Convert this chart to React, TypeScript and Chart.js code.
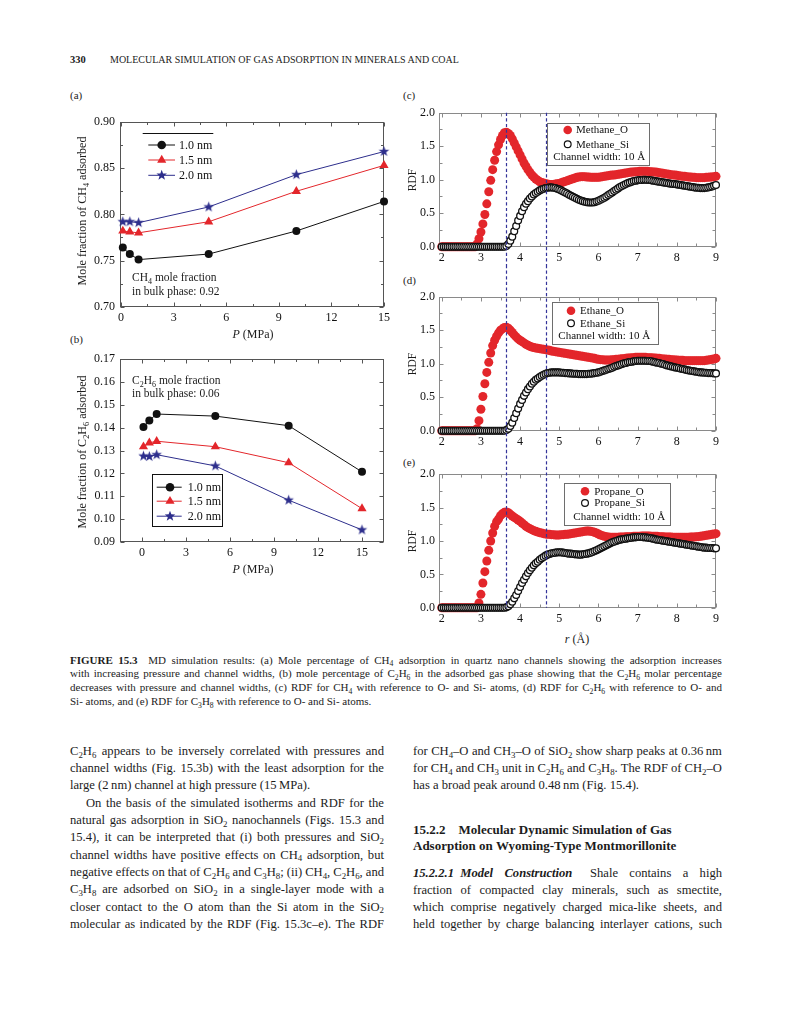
import React, { useEffect, useLayoutEffect, useRef } from 'react';
import { Chart, registerables } from 'chart.js';

Chart.register(...registerables);

const SERIF = '"Liberation Serif", "Times New Roman", Times, serif';
const INK = '#1c1c1c';
const BLACK = '#111111';
const RED = '#e3262b';
const NAVY = '#2d2e8c';
const DASH = '#34349a';

// ---------------- (a) / (b) data ----------------
const pressureMPa = [0.1, 0.5, 1, 5, 10, 15];
const widthNames = ['1.0 nm', '1.5 nm', '2.0 nm'];
const ch4W10 = [0.764, 0.757, 0.751, 0.757, 0.782, 0.814];
const ch4W15 = [0.782, 0.781, 0.78, 0.792, 0.825, 0.853];
const ch4W20 = [0.792, 0.792, 0.791, 0.808, 0.843, 0.868];
const c2h6W10 = [0.1403, 0.1432, 0.146, 0.1451, 0.1409, 0.1207];
const c2h6W15 = [0.1317, 0.1334, 0.1341, 0.1317, 0.1247, 0.1046];
const c2h6W20 = [0.1276, 0.1274, 0.1282, 0.1233, 0.1083, 0.0953];

const pTicks = [0, 3, 6, 9, 12, 15];
const pMinor = [1.5, 4.5, 7.5, 10.5, 13.5];
const ch4Ticks = [0.7, 0.75, 0.8, 0.85, 0.9];
const ch4Minor = [0.725, 0.775, 0.825, 0.875];
const c2h6Ticks = [0.09, 0.1, 0.11, 0.12, 0.13, 0.14, 0.15, 0.16, 0.17];
const c2h6Minor: number[] = [];

// ---------------- (c)-(e) RDF data ----------------
const rdfR = [
  2.0, 2.05, 2.1, 2.15, 2.2, 2.25, 2.3, 2.35, 2.4, 2.45,
  2.5, 2.55, 2.6, 2.65, 2.7, 2.75, 2.8, 2.85, 2.9, 2.95,
  3.0, 3.05, 3.1, 3.15, 3.2, 3.25, 3.3, 3.35, 3.4, 3.45,
  3.5, 3.55, 3.6, 3.65, 3.7, 3.75, 3.8, 3.85, 3.9, 3.95,
  4.0, 4.05, 4.1, 4.15, 4.2, 4.25, 4.3, 4.35, 4.4, 4.45,
  4.5, 4.55, 4.6, 4.65, 4.7, 4.75, 4.8, 4.85, 4.9, 4.95,
  5.0, 5.05, 5.1, 5.15, 5.2, 5.25, 5.3, 5.35, 5.4, 5.45,
  5.5, 5.55, 5.6, 5.65, 5.7, 5.75, 5.8, 5.85, 5.9, 5.95,
  6.0, 6.05, 6.1, 6.15, 6.2, 6.25, 6.3, 6.35, 6.4, 6.45,
  6.5, 6.55, 6.6, 6.65, 6.7, 6.75, 6.8, 6.85, 6.9, 6.95,
  7.0, 7.05, 7.1, 7.15, 7.2, 7.25, 7.3, 7.35, 7.4, 7.45,
  7.5, 7.55, 7.6, 7.65, 7.7, 7.75, 7.8, 7.85, 7.9, 7.95,
  8.0, 8.05, 8.1, 8.15, 8.2, 8.25, 8.3, 8.35, 8.4, 8.45,
  8.5, 8.55, 8.6, 8.65, 8.7, 8.75, 8.8, 8.85, 8.9, 8.95,
  9.0,
];

const methaneO = [
  0, 0, 0, 0, 0, 0, 0, 0, 0, 0,
  0, 0, 0, 0, 0, 0, 0, 0, 0.04, 0.12,
  0.22, 0.34, 0.48, 0.64, 0.82, 0.99, 1.15, 1.29, 1.42, 1.52,
  1.6, 1.66, 1.7, 1.71, 1.69, 1.66, 1.61, 1.55, 1.49, 1.43,
  1.37, 1.31, 1.25, 1.2, 1.15, 1.11, 1.07, 1.04, 1.01, 0.99,
  0.97, 0.96, 0.95, 0.94, 0.935, 0.93, 0.93, 0.93, 0.935, 0.94,
  0.945, 0.955, 0.965, 0.975, 0.985, 0.995, 1.005, 1.015, 1.025, 1.035,
  1.04, 1.045, 1.045, 1.045, 1.04, 1.04, 1.035, 1.035, 1.035, 1.035,
  1.035, 1.04, 1.045, 1.05, 1.055, 1.06, 1.065, 1.07, 1.07, 1.075,
  1.08, 1.085, 1.09, 1.095, 1.1, 1.105, 1.11, 1.115, 1.115, 1.12,
  1.12, 1.125, 1.125, 1.125, 1.125, 1.125, 1.12, 1.12, 1.115, 1.115,
  1.11, 1.105, 1.1, 1.095, 1.09, 1.085, 1.08, 1.075, 1.07, 1.07,
  1.065, 1.06, 1.055, 1.05, 1.05, 1.045, 1.04, 1.04, 1.035, 1.035,
  1.03, 1.03, 1.03, 1.03, 1.03, 1.035, 1.035, 1.04, 1.04, 1.045,
  1.05,
];
const methaneSi = [
  0, 0, 0, 0, 0, 0, 0, 0, 0, 0,
  0, 0, 0, 0, 0, 0, 0, 0, 0, 0,
  0, 0, 0, 0, 0, 0, 0, 0, 0, 0,
  0, 0, 0, 0.01, 0.04, 0.09, 0.15, 0.23, 0.31, 0.39,
  0.46, 0.53, 0.59, 0.64, 0.68, 0.72, 0.75, 0.78, 0.8, 0.82,
  0.84, 0.855, 0.865, 0.875, 0.88, 0.885, 0.885, 0.88, 0.875, 0.865,
  0.855, 0.84, 0.825, 0.81, 0.795, 0.775, 0.76, 0.745, 0.73, 0.715,
  0.7, 0.69, 0.68, 0.67, 0.665, 0.66, 0.66, 0.66, 0.665, 0.675,
  0.685, 0.7, 0.715, 0.73, 0.75, 0.77, 0.79, 0.81, 0.83, 0.85,
  0.87, 0.89, 0.905, 0.92, 0.935, 0.95, 0.96, 0.97, 0.98, 0.985,
  0.99, 0.995, 0.995, 1.0, 1.0, 0.995, 0.995, 0.99, 0.985, 0.98,
  0.975, 0.97, 0.965, 0.96, 0.955, 0.95, 0.945, 0.94, 0.935, 0.935,
  0.93, 0.925, 0.92, 0.915, 0.91, 0.905, 0.9, 0.895, 0.89, 0.885,
  0.88, 0.88, 0.875, 0.875, 0.875, 0.88, 0.885, 0.89, 0.9, 0.91,
  0.92,
];
const ethaneO = [
  0, 0, 0, 0, 0, 0, 0, 0, 0, 0,
  0, 0, 0, 0, 0, 0, 0, 0, 0.03, 0.15,
  0.32, 0.51, 0.7, 0.87, 1.02, 1.16, 1.27, 1.35, 1.41, 1.46,
  1.5, 1.52, 1.54, 1.545, 1.53, 1.5, 1.465, 1.43, 1.4, 1.37,
  1.35, 1.33, 1.31, 1.29, 1.275, 1.26, 1.25, 1.24, 1.235, 1.23,
  1.225, 1.22, 1.215, 1.21, 1.205, 1.2, 1.19, 1.185, 1.18, 1.175,
  1.17, 1.165, 1.16, 1.155, 1.15, 1.145, 1.14, 1.135, 1.13, 1.125,
  1.12, 1.115, 1.11, 1.105, 1.1, 1.095, 1.09, 1.085, 1.08, 1.07,
  1.065, 1.06, 1.06, 1.055, 1.055, 1.055, 1.055, 1.06, 1.06, 1.065,
  1.065, 1.07, 1.075, 1.075, 1.08, 1.085, 1.085, 1.09, 1.09, 1.095,
  1.095, 1.095, 1.095, 1.095, 1.095, 1.09, 1.09, 1.09, 1.085, 1.085,
  1.08, 1.08, 1.075, 1.07, 1.07, 1.065, 1.065, 1.06, 1.06, 1.055,
  1.055, 1.05, 1.05, 1.05, 1.045, 1.045, 1.045, 1.045, 1.045, 1.045,
  1.045, 1.045, 1.045, 1.045, 1.045, 1.05, 1.055, 1.06, 1.065, 1.07,
  1.08,
];
const ethaneSi = [
  0, 0, 0, 0, 0, 0, 0, 0, 0, 0,
  0, 0, 0, 0, 0, 0, 0, 0, 0, 0,
  0, 0, 0, 0, 0, 0, 0, 0, 0, 0,
  0, 0, 0, 0.01, 0.03, 0.07, 0.12, 0.19, 0.26, 0.33,
  0.4, 0.46, 0.52, 0.57, 0.62, 0.66, 0.7, 0.73, 0.76, 0.78,
  0.8, 0.82, 0.835, 0.85, 0.86, 0.865, 0.87, 0.87, 0.87, 0.87,
  0.87, 0.865, 0.865, 0.86, 0.86, 0.855, 0.855, 0.85, 0.85, 0.85,
  0.845, 0.845, 0.845, 0.845, 0.845, 0.85, 0.85, 0.855, 0.86, 0.865,
  0.87, 0.88, 0.89, 0.9, 0.91, 0.92, 0.93, 0.94, 0.955, 0.965,
  0.975, 0.985, 0.995, 1.005, 1.01, 1.02, 1.025, 1.03, 1.035, 1.04,
  1.045, 1.045, 1.045, 1.045, 1.045, 1.04, 1.04, 1.035, 1.03, 1.02,
  1.015, 1.01, 1.0, 0.995, 0.985, 0.975, 0.97, 0.96, 0.955, 0.945,
  0.94, 0.935, 0.925, 0.92, 0.915, 0.905, 0.9, 0.895, 0.89, 0.885,
  0.88, 0.875, 0.87, 0.87, 0.865, 0.865, 0.86, 0.86, 0.86, 0.855,
  0.855,
];
const propaneO = [
  0, 0, 0, 0, 0, 0, 0, 0, 0, 0,
  0, 0, 0, 0, 0, 0, 0, 0, 0, 0.07,
  0.2, 0.37, 0.54, 0.7, 0.86, 1.0, 1.12, 1.22, 1.29, 1.33,
  1.38, 1.41, 1.43, 1.435, 1.425, 1.4, 1.375, 1.355, 1.335, 1.315,
  1.295, 1.27, 1.245, 1.22, 1.2, 1.185, 1.17, 1.155, 1.145, 1.135,
  1.125, 1.12, 1.11, 1.105, 1.1, 1.1, 1.095, 1.095, 1.09, 1.09,
  1.09, 1.095, 1.095, 1.1, 1.1, 1.105, 1.11, 1.115, 1.12, 1.125,
  1.13, 1.135, 1.14, 1.145, 1.15, 1.15, 1.145, 1.14, 1.13, 1.12,
  1.105, 1.09, 1.08, 1.07, 1.065, 1.06, 1.055, 1.055, 1.055, 1.055,
  1.055, 1.06, 1.06, 1.06, 1.065, 1.065, 1.065, 1.065, 1.07, 1.07,
  1.07, 1.07, 1.075, 1.075, 1.075, 1.075, 1.075, 1.07, 1.07, 1.07,
  1.07, 1.065, 1.065, 1.065, 1.06, 1.06, 1.06, 1.06, 1.055, 1.055,
  1.055, 1.055, 1.055, 1.055, 1.055, 1.055, 1.055, 1.06, 1.06, 1.06,
  1.065, 1.065, 1.07, 1.075, 1.08, 1.085, 1.09, 1.095, 1.1, 1.105,
  1.11,
];
const propaneSi = [
  0, 0, 0, 0, 0, 0, 0, 0, 0, 0,
  0, 0, 0, 0, 0, 0, 0, 0, 0, 0,
  0, 0, 0, 0, 0, 0, 0, 0, 0, 0,
  0, 0, 0, 0.005, 0.02, 0.05, 0.09, 0.14, 0.19, 0.25,
  0.31, 0.37, 0.42, 0.47, 0.52, 0.56, 0.6, 0.635, 0.665, 0.69,
  0.72, 0.74, 0.76, 0.78, 0.795, 0.805, 0.815, 0.82, 0.825, 0.83,
  0.83, 0.83, 0.825, 0.82, 0.815, 0.81, 0.81, 0.805, 0.8, 0.8,
  0.795, 0.795, 0.8, 0.805, 0.81, 0.815, 0.825, 0.835, 0.85, 0.86,
  0.875, 0.89, 0.905, 0.92, 0.935, 0.95, 0.965, 0.98, 0.99, 1.0,
  1.01, 1.02, 1.025, 1.03, 1.035, 1.04, 1.045, 1.05, 1.055, 1.055,
  1.06, 1.06, 1.06, 1.055, 1.055, 1.05, 1.045, 1.04, 1.035, 1.025,
  1.02, 1.015, 1.01, 1.005, 1.0, 0.995, 0.99, 0.985, 0.98, 0.975,
  0.97, 0.965, 0.96, 0.955, 0.95, 0.945, 0.94, 0.935, 0.93, 0.925,
  0.92, 0.915, 0.91, 0.905, 0.9, 0.9, 0.895, 0.895, 0.895, 0.89,
  0.89,
];

const rTicks = [2, 3, 4, 5, 6, 7, 8, 9];
const rMinor = [2.5, 3.5, 4.5, 5.5, 6.5, 7.5, 8.5];
const rdfTicks = [0, 0.5, 1, 1.5, 2];
const rdfMinor = [0.25, 0.75, 1.25, 1.75];
const peakLinesR = [3.63, 4.65];
const channelNote = 'Channel width: 10 \u00C5';

// ---------------- page text ----------------
const captionLines = [
  '~FIGURE 15.3~\u2002 MD simulation results: (a) Mole percentage of CH_4 adsorption in quartz nano channels showing the adsorption increases',
  'with increasing pressure and channel widths, (b) mole percentage of C_2H_6 in the adsorbed gas phase showing that the C_2H_6 molar percentage',
  'decreases with pressure and channel widths, (c) RDF for CH_4 with reference to O- and Si- atoms, (d) RDF for C_2H_6 with reference to O- and',
  'Si- atoms, and (e) RDF for C_3H_8 with reference to O- and Si- atoms.',
];
const leftColumn = [
  'C_2H_6 appears to be inversely correlated with pressures and',
  'channel widths (Fig. 15.3b) with the least adsorption for the',
  'large (2\u2009nm) channel at high pressure (15\u2009MPa).',
  'On the basis of the simulated isotherms and RDF for the',
  'natural gas adsorption in SiO_2 nanochannels (Figs. 15.3 and',
  '15.4), it can be interpreted that (i) both pressures and SiO_2',
  'channel widths have positive effects on CH_4 adsorption, but',
  'negative effects on that of C_2H_6 and C_3H_8; (ii) CH_4, C_2H_6, and',
  'C_3H_8 are adsorbed on SiO_2 in a single-layer mode with a',
  'closer contact to the O atom than the Si atom in the SiO_2',
  'molecular as indicated by the RDF (Fig. 15.3c\u2013e). The RDF',
];
const rightTop = [
  'for CH_4\u2013O and CH_3\u2013O of SiO_2 show sharp peaks at 0.36\u2009nm',
  'for CH_4 and CH_3 unit in C_2H_6 and C_3H_8. The RDF of CH_2\u2013O',
  'has a broad peak around 0.48\u2009nm (Fig. 15.4).',
];
const rightHeading = [
  '15.2.2\u2003Molecular Dynamic Simulation of Gas',
  'Adsorption on Wyoming-Type Montmorillonite',
];
const rightBottom = [
  '~^15.2.2.1\u2002Model Construction^~\u2002 Shale contains a high',
  'fraction of compacted clay minerals, such as smectite,',
  'which comprise negatively charged mica-like sheets, and',
  'held together by charge balancing interlayer cations, such',
];

// ---------------- rich text helpers ----------------
type Run = { t: string; b: boolean; i: boolean; s: boolean };

function parseRuns(src: string): Run[] {
  const runs: Run[] = [];
  let b = false;
  let it = false;
  const add = (t: string, s: boolean) => {
    const last = runs[runs.length - 1];
    if (last && last.b === b && last.i === it && last.s === s) last.t += t;
    else runs.push({ t, b, i: it, s });
  };
  for (let k = 0; k < src.length; k++) {
    const c = src[k];
    if (c === '~') { b = !b; continue; }
    if (c === '^') { it = !it; continue; }
    if (c === '_') { add(src[k + 1], true); k++; continue; }
    add(c, false);
  }
  return runs;
}

function parseWords(src: string): Run[][] {
  const words: Run[][] = [];
  let cur: Run[] = [];
  for (const r of parseRuns(src)) {
    const parts = r.t.split(' ');
    parts.forEach((p, idx) => {
      if (idx > 0) { if (cur.length) words.push(cur); cur = []; }
      if (p) cur.push({ ...r, t: p });
    });
  }
  if (cur.length) words.push(cur);
  return words;
}

function renderRuns(runs: Run[]) {
  return runs.map((r, k) => (
    <span
      key={k}
      style={{
        fontWeight: r.b ? 700 : undefined,
        fontStyle: r.i ? 'italic' : undefined,
        ...(r.s ? { fontSize: '0.7em', position: 'relative' as const, top: '0.32em' } : {}),
      }}
    >
      {r.t}
    </span>
  ));
}

function Line(props: { x: number; y: number; w: number; fs: number; src: string; justify?: boolean; bold?: boolean }) {
  const { x, y, w, fs, src, justify, bold } = props;
  const words = parseWords(src);
  return (
    <div
      data-fit="1"
      style={{
        position: 'absolute', left: x, top: y - fs * 0.65, width: w, fontSize: fs,
        lineHeight: `${fs * 1.2}px`, display: 'flex', justifyContent: justify ? 'space-between' : 'flex-start',
        columnGap: `${fs * (justify ? 0.18 : 0.25)}px`, whiteSpace: 'pre', fontWeight: bold ? 700 : undefined,
      }}
    >
      {words.map((wd, i) => <span key={i}>{renderRuns(wd)}</span>)}
    </div>
  );
}

function Txt(props: { x: number; y: number; fs: number; src: string; center?: boolean; rotate?: boolean; bold?: boolean }) {
  const { x, y, fs, src, center, rotate, bold } = props;
  let transform = 'translate(0,-50%)';
  if (center) transform = 'translate(-50%,-50%)';
  if (rotate) transform = 'translate(-50%,-50%) rotate(-90deg)';
  return (
    <div
      style={{
        position: 'absolute', left: x, top: y, fontSize: fs, lineHeight: `${fs * 1.2}px`,
        whiteSpace: 'pre', transform, fontWeight: bold ? 700 : undefined,
      }}
    >
      {renderRuns(parseRuns(src))}
    </div>
  );
}

// ---------------- chart helpers ----------------
type Rect = { left: number; top: number; width: number; height: number };
type Plot = { left: number; top: number; right: number; bottom: number };

function fitLayout(cv: Rect, pl: Plot) {
  return {
    pad: { left: 0, top: pl.top - cv.top, right: cv.left + cv.width - pl.right, bottom: 0 },
    yW: pl.left - cv.left,
    xH: cv.top + cv.height - pl.bottom,
  };
}

function scaleOpts(axis: 'x' | 'y', min: number, max: number, ticks: number[], fmt: (v: number) => string, size: number, pad: number) {
  return {
    type: 'linear',
    position: axis === 'x' ? 'bottom' : 'left',
    min,
    max,
    afterBuildTicks: (s: any) => { s.ticks = ticks.map((v) => ({ value: v })); },
    afterFit: (s: any) => { if (axis === 'x') s.height = size; else s.width = size; },
    grid: { display: false, drawTicks: false, tickLength: 0 },
    border: { display: false },
    ticks: {
      callback: (v: any) => fmt(Number(v)),
      autoSkip: false, maxRotation: 0, minRotation: 0, padding: pad, color: '#111',
      font: { family: SERIF, size: 12 },
    },
  };
}

function starPath(ctx: CanvasRenderingContext2D, x: number, y: number, ro: number, ri: number) {
  ctx.beginPath();
  for (let k = 0; k < 10; k++) {
    const r = k % 2 === 0 ? ro : ri;
    const a = -Math.PI / 2 + (k * Math.PI) / 5;
    const px = x + r * Math.cos(a);
    const py = y + r * Math.sin(a);
    if (k === 0) ctx.moveTo(px, py); else ctx.lineTo(px, py);
  }
  ctx.closePath();
}

function drawMarker(ctx: CanvasRenderingContext2D, kind: string, x: number, y: number, r: number, color: string) {
  ctx.save();
  ctx.fillStyle = color;
  if (kind === 'circle') {
    ctx.beginPath(); ctx.arc(x, y, r, 0, Math.PI * 2); ctx.fill();
  } else if (kind === 'triangle') {
    ctx.beginPath();
    for (let k = 0; k < 3; k++) {
      const a = (k * 2 * Math.PI) / 3;
      const px = x + Math.sin(a) * r;
      const py = y - Math.cos(a) * r;
      if (k === 0) ctx.moveTo(px, py); else ctx.lineTo(px, py);
    }
    ctx.closePath(); ctx.fill();
  } else {
    starPath(ctx, x, y, r, r * 0.42); ctx.fill();
  }
  ctx.restore();
}

function makeStar(r: number, color: string) {
  const s = Math.ceil(r * 2 + 2);
  const c = document.createElement('canvas');
  c.width = s; c.height = s;
  const ctx = c.getContext('2d')!;
  ctx.fillStyle = color;
  starPath(ctx, s / 2, s / 2, r, r * 0.42);
  ctx.fill();
  return c;
}

function frameTicks(spec: { color: string; xMajor: number[]; xMinor: number[]; yMajor: number[]; yMinor: number[]; major: number; minor: number }) {
  return {
    id: 'frameTicks',
    beforeDatasetsDraw(chart: any) {
      const { ctx, chartArea: a, scales } = chart;
      const L = Math.round(a.left) + 0.5, R = Math.round(a.right) - 0.5;
      const T = Math.round(a.top) + 0.5, B = Math.round(a.bottom) - 0.5;
      ctx.save();
      ctx.strokeStyle = spec.color;
      ctx.lineWidth = 1;
      ctx.strokeRect(L, T, R - L, B - T);
      ctx.beginPath();
      const xs = (vals: number[], len: number) => vals.forEach((v) => {
        const p = Math.round(scales.x.getPixelForValue(v)) + 0.5;
        ctx.moveTo(p, B); ctx.lineTo(p, B - len);
        ctx.moveTo(p, T); ctx.lineTo(p, T + len);
      });
      const ys = (vals: number[], len: number) => vals.forEach((v) => {
        const p = Math.round(scales.y.getPixelForValue(v)) + 0.5;
        ctx.moveTo(L, p); ctx.lineTo(L + len, p);
        ctx.moveTo(R, p); ctx.lineTo(R - len, p);
      });
      xs(spec.xMajor, spec.major); xs(spec.xMinor, spec.minor);
      ys(spec.yMajor, spec.major); ys(spec.yMinor, spec.minor);
      ctx.stroke();
      ctx.restore();
    },
  };
}

type LegItem = { kind: string; color: string; label: string; r: number };
function lineLegend(spec: { items: LegItem[]; rows: number[]; lx0: number; lx1: number; mx: number; tx: number; topRule?: number[]; box?: number[] }) {
  return {
    id: 'lineLegend',
    afterDatasetsDraw(chart: any) {
      const { ctx, chartArea: a } = chart;
      ctx.save();
      ctx.strokeStyle = '#111';
      ctx.lineWidth = 1;
      if (spec.topRule) {
        const [x0, x1, y] = spec.topRule;
        const yy = Math.round(a.top + y) + 0.5;
        ctx.beginPath(); ctx.moveTo(a.left + x0, yy); ctx.lineTo(a.left + x1, yy); ctx.stroke();
      }
      if (spec.box) {
        const [x0, y0, x1, y1] = spec.box;
        ctx.strokeRect(Math.round(a.left + x0) + 0.5, Math.round(a.top + y0) + 0.5, Math.round(x1 - x0), Math.round(y1 - y0));
      }
      ctx.font = `12px ${SERIF}`;
      ctx.textBaseline = 'middle';
      spec.items.forEach((it, i) => {
        const y = a.top + spec.rows[i];
        ctx.strokeStyle = it.color;
        ctx.beginPath(); ctx.moveTo(a.left + spec.lx0, y); ctx.lineTo(a.left + spec.lx1, y); ctx.stroke();
        drawMarker(ctx, it.kind, a.left + spec.mx, y, it.r, it.color);
        ctx.fillStyle = '#111';
        ctx.fillText(it.label, a.left + spec.tx, y + 0.5);
      });
      ctx.restore();
    },
  };
}

function rdfLegend(spec: { names: string[]; box: number[]; mx: number; tx: number; rows: number[]; note: number[] }) {
  return {
    id: 'rdfLegend',
    afterDatasetsDraw(chart: any) {
      const { ctx, chartArea: a } = chart;
      const [x0, y0, x1, y1] = spec.box;
      ctx.save();
      ctx.fillStyle = '#fff';
      ctx.fillRect(a.left + x0, a.top + y0, x1 - x0, y1 - y0);
      ctx.strokeStyle = '#6e6e6e';
      ctx.lineWidth = 1;
      ctx.strokeRect(Math.round(a.left + x0) + 0.5, Math.round(a.top + y0) + 0.5, Math.round(x1 - x0), Math.round(y1 - y0));
      ctx.fillStyle = RED;
      ctx.beginPath(); ctx.arc(a.left + spec.mx, a.top + spec.rows[0], 4.3, 0, Math.PI * 2); ctx.fill();
      ctx.fillStyle = '#fff'; ctx.strokeStyle = '#111'; ctx.lineWidth = 1.2;
      ctx.beginPath(); ctx.arc(a.left + spec.mx, a.top + spec.rows[1], 3.4, 0, Math.PI * 2); ctx.fill(); ctx.stroke();
      ctx.fillStyle = '#111';
      ctx.font = `11px ${SERIF}`;
      ctx.textBaseline = 'middle';
      ctx.textAlign = 'left';
      ctx.fillText(spec.names[0], a.left + spec.tx, a.top + spec.rows[0] + 0.5);
      ctx.fillText(spec.names[1], a.left + spec.tx, a.top + spec.rows[1] + 0.5);
      ctx.textAlign = 'center';
      ctx.fillText(channelNote, a.left + spec.note[0], a.top + spec.note[1] + 0.5);
      ctx.restore();
    },
  };
}

function peakDashes(topAtArea: boolean, bottomAtArea: boolean) {
  return {
    id: 'peakDashes',
    afterDatasetsDraw(chart: any) {
      const { ctx, chartArea: a, scales } = chart;
      const y0 = topAtArea ? a.top : 0;
      const y1 = bottomAtArea ? a.bottom : chart.height;
      ctx.save();
      ctx.strokeStyle = DASH;
      ctx.lineWidth = 1.2;
      ctx.setLineDash([3.2, 2.4]);
      peakLinesR.forEach((v) => {
        const px = Math.round(scales.x.getPixelForValue(v)) + 0.5;
        ctx.beginPath(); ctx.moveTo(px, y0); ctx.lineTo(px, y1); ctx.stroke();
      });
      ctx.restore();
    },
  };
}

// ---------------- panel specs ----------------
type LinePanel = {
  canvas: Rect; plot: Plot; xMin: number; xMax: number; yMin: number; yMax: number;
  yTicks: number[]; yMinor: number[]; series: number[][]; legend: any;
};

const panelA: LinePanel = {
  canvas: { left: 78, top: 108, width: 322, height: 225 },
  plot: { left: 120, top: 122, right: 384, bottom: 306.7 },
  xMin: -0.06, xMax: 15, yMin: 0.7, yMax: 0.9, yTicks: ch4Ticks, yMinor: ch4Minor,
  series: [ch4W10, ch4W15, ch4W20],
  legend: { rows: [23, 38, 53.3], lx0: 28.3, lx1: 55, mx: 41.7, tx: 59, topRule: [22.7, 93.3, 11.3] },
};
const panelB: LinePanel = {
  canvas: { left: 78, top: 347, width: 322, height: 215 },
  plot: { left: 120, top: 357, right: 384, bottom: 542 },
  xMin: -1.5, xMax: 16.5, yMin: 0.09, yMax: 0.17, yTicks: c2h6Ticks, yMinor: c2h6Minor,
  series: [c2h6W10, c2h6W15, c2h6W20],
  legend: { rows: [128, 142, 157], lx0: 36.7, lx1: 61.7, mx: 50, tx: 67.7, box: [31.7, 114.7, 101.7, 166.3] },
};

type RdfPanel = {
  canvas: Rect; plot: Plot; o: number[]; si: number[]; names: string[];
  legend: { box: number[]; mx: number; tx: number; rows: number[]; note: number[] };
  dashTop: boolean; dashBottom: boolean;
};

const panelC: RdfPanel = {
  canvas: { left: 405, top: 100, width: 325, height: 165 },
  plot: { left: 439, top: 112.7, right: 716, bottom: 246.7 },
  o: methaneO, si: methaneSi, names: ['Methane_O', 'Methane_Si'],
  legend: { box: [108, 10, 210, 52.3], mx: 128.7, tx: 137, rows: [17.3, 31.6], note: [160.3, 44] },
  dashTop: true, dashBottom: false,
};
const panelD: RdfPanel = {
  canvas: { left: 405, top: 265, width: 325, height: 185 },
  plot: { left: 439, top: 296.7, right: 716, bottom: 430.7 },
  o: ethaneO, si: ethaneSi, names: ['Ethane_O', 'Ethane_Si'],
  legend: { box: [112.7, 5, 218.7, 46.6], mx: 132, tx: 141, rows: [14, 26.6], note: [165.3, 39] },
  dashTop: false, dashBottom: false,
};
const panelE: RdfPanel = {
  canvas: { left: 405, top: 450, width: 325, height: 175 },
  plot: { left: 439, top: 474.3, right: 716, bottom: 607.7 },
  o: propaneO, si: propaneSi, names: ['Propane_O', 'Propane_Si'],
  legend: { box: [125.3, 8.7, 231.3, 50.4], mx: 146, tx: 155.3, rows: [17, 28.7], note: [180.3, 42] },
  dashTop: false, dashBottom: true,
};

function buildLineChart(el: HTMLCanvasElement, p: LinePanel) {
  const L = fitLayout(p.canvas, p.plot);
  const star = makeStar(5.5, NAVY);
  const looks = [
    { kind: 'circle', color: BLACK, r: 4 },
    { kind: 'triangle', color: RED, r: 5.3 },
    { kind: 'star', color: NAVY, r: 5.5 },
  ];
  const items: LegItem[] = looks.map((lk, i) => ({ ...lk, label: widthNames[i], r: lk.kind === 'circle' ? 4.3 : lk.r }));
  return new Chart(el, {
    type: 'scatter',
    data: {
      datasets: p.series.map((ys, i) => ({
        label: widthNames[i],
        data: pressureMPa.map((x, k) => ({ x, y: ys[k] })),
        showLine: true,
        borderColor: looks[i].color,
        borderWidth: 1,
        backgroundColor: looks[i].color,
        pointBackgroundColor: looks[i].color,
        pointBorderColor: looks[i].color,
        pointBorderWidth: 0,
        pointRadius: looks[i].r,
        pointStyle: looks[i].kind === 'star' ? star : looks[i].kind,
        clip: false,
      })),
    } as any,
    options: {
      responsive: false,
      animation: false,
      events: [],
      layout: { padding: L.pad },
      scales: {
        x: scaleOpts('x', p.xMin, p.xMax, pTicks, (v) => String(v), L.xH, 4),
        y: scaleOpts('y', p.yMin, p.yMax, p.yTicks, (v) => v.toFixed(2), L.yW, 5),
      } as any,
      plugins: { legend: { display: false }, tooltip: { enabled: false } },
    },
    plugins: [
      frameTicks({ color: '#555', xMajor: pTicks, xMinor: pMinor, yMajor: p.yTicks, yMinor: p.yMinor, major: 4, minor: 2.5 }),
      lineLegend({ items, ...p.legend }),
    ],
  });
}

function buildRdfChart(el: HTMLCanvasElement, p: RdfPanel) {
  const L = fitLayout(p.canvas, p.plot);
  return new Chart(el, {
    type: 'scatter',
    data: {
      datasets: [
        {
          label: p.names[0],
          data: rdfR.map((x, k) => ({ x, y: p.o[k] })),
          pointRadius: 4.5,
          pointBackgroundColor: RED,
          pointBorderWidth: 0,
          showLine: false,
          clip: false,
          order: 2,
        },
        {
          label: p.names[1],
          data: rdfR.map((x, k) => ({ x, y: p.si[k] })),
          pointRadius: 3.4,
          pointBackgroundColor: '#ffffff',
          pointBorderColor: '#111111',
          pointBorderWidth: 1.3,
          showLine: false,
          clip: false,
          order: 1,
        },
      ],
    } as any,
    options: {
      responsive: false,
      animation: false,
      events: [],
      layout: { padding: L.pad },
      scales: {
        x: scaleOpts('x', 1.93, 9, rTicks, (v) => String(v), L.xH, 4),
        y: scaleOpts('y', 0, 2, rdfTicks, (v) => v.toFixed(1), L.yW, 4),
      } as any,
      plugins: { legend: { display: false }, tooltip: { enabled: false } },
    },
    plugins: [
      frameTicks({ color: '#8a8a8a', xMajor: rTicks, xMinor: rMinor, yMajor: rdfTicks, yMinor: rdfMinor, major: 4, minor: 3 }),
      peakDashes(p.dashTop, p.dashBottom),
      rdfLegend({ names: p.names, ...p.legend }),
    ],
  });
}

function ChartBox(props: { rect: Rect; build: (el: HTMLCanvasElement) => Chart }) {
  const ref = useRef<HTMLCanvasElement>(null);
  useEffect(() => {
    const c = props.build(ref.current!);
    return () => c.destroy();
  }, []);
  const r = props.rect;
  return (
    <canvas
      ref={ref}
      width={r.width}
      height={r.height}
      style={{ position: 'absolute', left: r.left, top: r.top, width: r.width, height: r.height }}
    />
  );
}

export default function App() {
  const rootRef = useRef<HTMLDivElement>(null);
  useLayoutEffect(() => {
    rootRef.current!.querySelectorAll<HTMLElement>('[data-fit]').forEach((el) => {
      el.style.transform = '';
      const cw = el.clientWidth;
      const sw = el.scrollWidth;
      if (sw > cw + 0.5) {
        el.style.transformOrigin = 'left center';
        el.style.transform = `scaleX(${cw / sw})`;
      }
    });
  }, []);

  const bodyFs = 12.6;
  const capFs = 11;

  return (
    <div
      ref={rootRef}
      style={{
        position: 'absolute', left: 0, top: 0, width: 791, height: 1024, background: '#fff',
        overflow: 'hidden', fontFamily: SERIF, color: INK,
      }}
    >
      {/* running head */}
      <Txt x={70} y={60} fs={10.5} src="~330~" />
      <Txt x={110} y={60} fs={10} src="MOLECULAR SIMULATION OF GAS ADSORPTION IN MINERALS AND COAL" />

      {/* panel labels */}
      <Txt x={70} y={96} fs={11} src="(a)" />
      <Txt x={403} y={96} fs={11} src="(c)" />
      <Txt x={70} y={340} fs={11} src="(b)" />
      <Txt x={403} y={281} fs={11} src="(d)" />
      <Txt x={403} y={463} fs={11} src="(e)" />

      {/* charts */}
      <ChartBox rect={panelA.canvas} build={(el) => buildLineChart(el, panelA)} />
      <ChartBox rect={panelB.canvas} build={(el) => buildLineChart(el, panelB)} />
      <ChartBox rect={panelC.canvas} build={(el) => buildRdfChart(el, panelC)} />
      <ChartBox rect={panelD.canvas} build={(el) => buildRdfChart(el, panelD)} />
      <ChartBox rect={panelE.canvas} build={(el) => buildRdfChart(el, panelE)} />

      {/* axis titles and notes for (a) and (b) */}
      <Txt x={82.7} y={211} fs={12} rotate src="Mole fraction of CH_4 adsorbed" />
      <Txt x={253} y={334} fs={12} center src="^P^ (MPa)" />
      <Txt x={132} y={278} fs={11.5} src="CH_4 mole fraction" />
      <Txt x={132} y={292} fs={11.5} src="in bulk phase: 0.92" />

      <Txt x={82.7} y={452} fs={12} rotate src="Mole fraction of C_2H_6 adsorbed" />
      <Txt x={253} y={569} fs={12} center src="^P^ (MPa)" />
      <Txt x={132} y={381} fs={11.5} src="C_2H_6 mole fraction" />
      <Txt x={132} y={394} fs={11.5} src="in bulk phase: 0.06" />

      {/* RDF titles */}
      <Txt x={412.7} y={180} fs={11.5} rotate src="RDF" />
      <Txt x={412.7} y={364} fs={11.5} rotate src="RDF" />
      <Txt x={412.7} y={541} fs={11.5} rotate src="RDF" />
      <Txt x={577} y={639} fs={12} center src={'^r^ (\u00C5)'} />

      {/* caption */}
      {captionLines.map((s, i) => (
        <Line key={'c' + i} x={70} y={660.7 + i * 13.9} w={652} fs={capFs} src={s} justify={i < captionLines.length - 1} />
      ))}

      {/* left column */}
      {leftColumn.map((s, i) => (
        <Line
          key={'l' + i}
          x={i === 3 ? 86 : 70}
          y={752 + i * 17.3}
          w={i === 3 ? 298 : 314}
          fs={bodyFs}
          src={s}
          justify={i !== 2}
        />
      ))}

      {/* right column */}
      {rightTop.map((s, i) => (
        <Line key={'r' + i} x={413} y={752 + i * 17.3} w={309} fs={bodyFs} src={s} justify={i < 2} />
      ))}
      {rightHeading.map((s, i) => (
        <Line key={'h' + i} x={413} y={830 + i * 16.5} w={309} fs={13} src={s} bold />
      ))}
      {rightBottom.map((s, i) => (
        <Line key={'b' + i} x={413} y={874 + i * 17.1} w={309} fs={bodyFs} src={s} justify />
      ))}
    </div>
  );
}
